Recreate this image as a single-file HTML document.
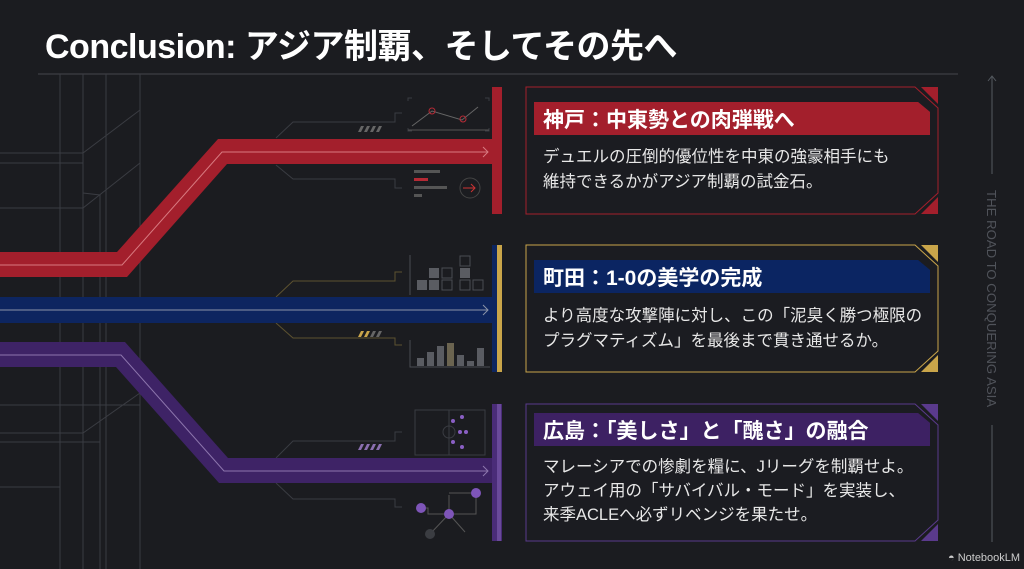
<!DOCTYPE html>
<html><head><meta charset="utf-8"><style>
*{margin:0;padding:0;box-sizing:border-box}
body{width:1024px;height:569px;background:#1b1c20;overflow:hidden;position:relative;font-family:"Liberation Sans","Noto Sans CJK JP",sans-serif;color:#fff}
.t{position:absolute;white-space:nowrap}
h1{position:absolute;left:45px;top:19px;font-size:34px;font-weight:bold;letter-spacing:-0.5px;color:#fff}
.bar{position:absolute;left:534px;width:396px;height:33px;clip-path:polygon(0 0,97% 0,100% 30%,100% 100%,0 100%)}
.bt{position:absolute;left:543px;font-size:21px;font-weight:bold;color:#fff;white-space:nowrap}
.body{position:absolute;left:543px;font-size:16.5px;line-height:25px;color:#e8e8e8;white-space:nowrap}
</style></head><body>
<svg width="1024" height="569" style="position:absolute;left:0;top:0">
<g stroke="#3a3c42" stroke-width="1" fill="none">
<line x1="38" y1="74" x2="958" y2="74" stroke="#44464c"/>
<line x1="60" y1="74" x2="60" y2="569"/><line x1="83" y1="74" x2="83" y2="569"/>
<line x1="106" y1="74" x2="106" y2="569"/><line x1="140" y1="74" x2="140" y2="569"/>
<polyline points="0,153 83,153 140,110"/><polyline points="0,163 83,163"/>
<polyline points="0,208 83,208 140,163"/><polyline points="83,193 100,195 100,569"/>
<polyline points="0,405 140,405"/><polyline points="0,433 83,433 140,393"/>
<polyline points="0,442 100,442 100,569"/><polyline points="0,487 60,487"/>
<polyline points="276,138 293,122 395,122 395,113 402,113"/>
<polyline points="276,165 293,179 395,179 395,188 402,188"/>
<polyline points="276,297 293,281 395,281 395,272 402,272" stroke="#5d5230"/>
<polyline points="276,323 293,338 395,338 395,345 402,345" stroke="#5d5230"/>
<polyline points="276,458 293,441 395,441 395,432 402,432"/>
<polyline points="276,483 293,499 395,499 395,507 402,507"/>
<rect x="415" y="410" width="70" height="45"/><line x1="449" y1="410" x2="449" y2="455"/><circle cx="449" cy="432" r="6"/>
<path d="M408,101 v-3 h4 M485,98 h4 v3 M408,128 v3 h4 M485,131 h4 v-3"/>
<polyline points="412,126 432,111 462,120 478,107" stroke="#666"/>
<line x1="408" y1="130" x2="489" y2="130" stroke="#555"/>
</g>
<circle cx="432" cy="111" r="3" fill="none" stroke="#b52a35"/><circle cx="463" cy="119" r="3" fill="none" stroke="#b52a35"/>
<g fill="#555"><rect x="414" y="170" width="26" height="3"/><rect x="414" y="178" width="14" height="3" fill="#b52a35"/><rect x="414" y="186" width="33" height="3"/><rect x="414" y="194" width="8" height="3"/></g>
<circle cx="470" cy="188" r="10" fill="none" stroke="#444"/><path d="M463,188h12m-4,-4 4,4 -4,4" stroke="#c33" fill="none"/>
<g fill="#5a5c62"><rect x="417" y="280" width="10" height="10"/><rect x="429" y="268" width="10" height="10"/><rect x="429" y="280" width="10" height="10"/><rect x="460" y="268" width="10" height="10"/></g>
<g fill="none" stroke="#4a4c52"><rect x="442" y="268" width="10" height="10"/><rect x="442" y="280" width="10" height="10"/><rect x="460" y="256" width="10" height="10"/><rect x="460" y="280" width="10" height="10"/><rect x="473" y="280" width="10" height="10"/><path d="M410,255 v40"/><path d="M410,340 v27 h80"/></g>
<g fill="#5a5c62"><rect x="417" y="358" width="7" height="8"/><rect x="427" y="352" width="7" height="14"/><rect x="437" y="346" width="7" height="20"/><rect x="447" y="343" width="7" height="23" fill="#6b6450"/><rect x="457" y="355" width="7" height="11"/><rect x="467" y="361" width="7" height="5"/><rect x="477" y="348" width="7" height="18"/></g>
<g fill="#8a5fc4"><circle cx="453" cy="421" r="2"/><circle cx="462" cy="417" r="2"/><circle cx="460" cy="432" r="2"/><circle cx="466" cy="432" r="2"/><circle cx="453" cy="442" r="2"/><circle cx="462" cy="447" r="2"/></g>
<g stroke="#555" fill="none"><polyline points="421,508 428,508 428,514 449,514 476,514 476,493 449,493"/><line x1="449" y1="514" x2="430" y2="534"/><line x1="449" y1="514" x2="465" y2="532"/><line x1="449" y1="514" x2="449" y2="495"/></g>
<circle cx="421" cy="508" r="5" fill="#7e55b8"/><circle cx="449" cy="514" r="5" fill="#7e55b8"/><circle cx="476" cy="493" r="5" fill="#7e55b8"/><circle cx="430" cy="534" r="5" fill="#3b3d42"/>
<g fill="#666"><path d="M358,132l3,-6h3l-3,6zM364,132l3,-6h3l-3,6zM370,132l3,-6h3l-3,6zM376,132l3,-6h3l-3,6z"/></g>
<g fill="#8a6fb0"><path d="M358,450l3,-6h3l-3,6zM364,450l3,-6h3l-3,6zM370,450l3,-6h3l-3,6zM376,450l3,-6h3l-3,6z"/></g>
<g fill="#c9a54a"><path d="M358,337l3,-6h3l-3,6zM364,337l3,-6h3l-3,6z"/></g>
<g fill="#666"><path d="M370,337l3,-6h3l-3,6zM376,337l3,-6h3l-3,6z"/></g>
<polygon points="0,252 117,252 218,139 492,139 492,164 227,164 127,277 0,277" fill="#a31f2c"/>
<polyline points="0,265 122,265 222,152 488,152" fill="none" stroke="#d87a80" stroke-width="1"/>
<path d="M483,147 l5,5 -5,5" fill="none" stroke="#d87a80"/>
<rect x="0" y="297" width="492" height="26" fill="#0d2560"/>
<line x1="0" y1="310" x2="488" y2="310" stroke="#8a93a8"/><path d="M483,305 l5,5 -5,5" fill="none" stroke="#8a93a8"/>
<polygon points="0,342 125,342 228,458 492,458 492,483 219,483 116,367 0,367" fill="#3e2366"/>
<polyline points="0,355 121,355 224,471 488,471" fill="none" stroke="#8d76ad"/>
<path d="M483,466 l5,5 -5,5" fill="none" stroke="#8d76ad"/>
<rect x="492" y="87" width="10" height="127" fill="#a31f2c"/>
<rect x="492" y="245" width="5" height="127" fill="#0d2560"/><rect x="497" y="245" width="5" height="127" fill="#c9a54a"/>
<rect x="492" y="404" width="10" height="137" fill="#4a2c78"/><rect x="497" y="404" width="4" height="137" fill="#6a4a9a"/>
<g fill="#1b1c21">
<path d="M526,87 H915 L938,108 V193 L915,214 H526Z" stroke="#a31f2c"/>
<path d="M526,245 H915 L938,266 V351 L915,372 H526Z" stroke="#c9a54a"/>
<path d="M526,404 H915 L938,425 V520 L915,541 H526Z" stroke="#5a3a8c"/>
</g>
<path d="M921,87h17v17z M938,197v17h-17z" fill="#a31f2c"/>
<path d="M921,245h17v17z M938,355v17h-17z" fill="#c9a54a"/>
<path d="M921,404h17v17z M938,524v17h-17z" fill="#5a3a8c"/>
<g stroke="#555a60"><line x1="992" y1="76" x2="992" y2="174"/><path d="M988,81l4,-5 4,5" fill="none"/><line x1="992" y1="425" x2="992" y2="542"/></g>
<text x="0" y="0" transform="translate(987,190) rotate(90)" font-family="Liberation Sans" font-size="13.2" fill="#50535a">THE ROAD TO CONQUERING ASIA</text>
</svg>
<h1>Conclusion: アジア制覇、そしてその先へ</h1>
<div class="bar" style="top:102px;background:#a31f2c"></div>
<div class="bt" style="top:104px">神戸：中東勢との肉弾戦へ</div>
<div class="body" style="top:145px">デュエルの圧倒的優位性を中東の強豪相手にも<br>維持できるかがアジア制覇の試金石。</div>
<div class="bar" style="top:260px;background:#0b2562"></div>
<div class="bt" style="top:262px">町田：1-0の美学の完成</div>
<div class="body" style="top:304px">より高度な攻撃陣に対し、この「泥臭く勝つ極限の<br>プラグマティズム」を最後まで貫き通せるか。</div>
<div class="bar" style="top:413px;background:#3d2163"></div>
<div class="bt" style="top:415px">広島：「美しさ」と「醜さ」の融合</div>
<div class="body" style="top:455px;line-height:24px">マレーシアでの惨劇を糧に、Jリーグを制覇せよ。<br>アウェイ用の「サバイバル・モード」を実装し、<br>来季ACLEへ必ずリベンジを果たせ。</div>
<div class="t" style="left:948px;top:552px;font-size:11px;color:#ccc">◓ NotebookLM</div>
</body></html>
